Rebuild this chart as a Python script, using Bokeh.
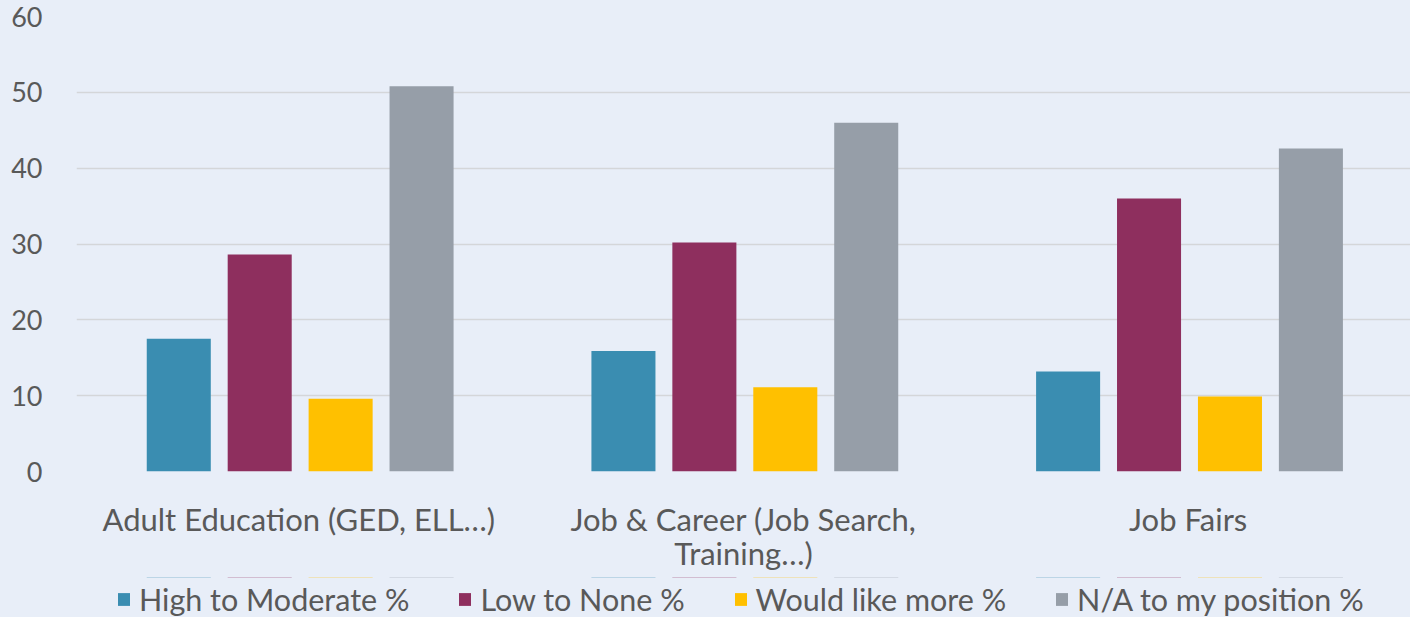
from bokeh.plotting import figure
from bokeh.layouts import column
from bokeh.models import FactorRange, Legend, LegendItem, ColumnDataSource, FixedTicker, Range1d
from bokeh.transform import dodge
from bokeh.embed import file_html
from bokeh.resources import INLINE

categories = ["Adult Education (GED, ELL…)", "Job & Career (Job Search,\nTraining…)", "Job Fairs"]
series_names = ["High to Moderate %", "Low to None %", "Would like more %", "N/A to my position %"]
high_moderate = [17.5, 15.9, 13.2]
low_none = [28.6, 30.2, 36.0]
would_like_more = [9.6, 11.1, 9.9]
na_position = [50.8, 46.0, 42.6]
y_ticks = [0, 10, 20, 30, 40, 50, 60]

colors = ["#3a8db1", "#8e2f5e", "#ffc000", "#969ea8"]
offsets = [-0.27, -0.088, 0.094, 0.276]
bg = "#e8eef8"
txt = "#595959"
font = "Lato"

source = ColumnDataSource(dict(cat=categories, s0=high_moderate, s1=low_none,
                               s2=would_like_more, s3=na_position))
cols = ["s0", "s1", "s2", "s3"]

# main chart
p = figure(x_range=FactorRange(*categories, range_padding=0), y_range=(0, 60),
           width=1410, height=577, output_backend="svg", toolbar_location=None,
           border_fill_color=bg, background_fill_alpha=0,
           min_border_top=16, min_border_right=0, min_border_left=76,
           min_border_bottom=106)
p.outline_line_color = None

for i, col in enumerate(cols):
    p.vbar(x=dodge("cat", offsets[i], range=p.x_range), top=col, width=0.144,
           source=source, fill_color=colors[i], line_color=None)

p.yaxis.ticker = FixedTicker(ticks=y_ticks)
p.ygrid.ticker = FixedTicker(ticks=y_ticks)
p.xgrid.grid_line_color = None
p.ygrid.grid_line_color = "#d4d6d9"
p.ygrid.grid_line_width = 1.5

for ax in (p.xaxis, p.yaxis):
    ax.axis_line_color = None
    ax.major_tick_line_color = None
    ax.minor_tick_line_color = None
    ax.major_label_text_color = txt
    ax.major_label_text_font = font
p.yaxis.major_label_text_font_size = "27px"
p.xaxis.major_label_text_font_size = "31px"
p.xaxis.major_label_text_line_height = 0.92
p.yaxis.major_label_standoff = 28
p.xaxis.major_label_standoff = 22

# legend strip below the chart: swatch renderers are zero-height and lie
# outside this strip's y-range, so only their legend entries show
lp = figure(x_range=p.x_range, y_range=Range1d(-2000, -1999),
            width=1410, height=40, output_backend="svg", toolbar_location=None,
            x_axis_location=None, y_axis_location=None,
            border_fill_color=bg, background_fill_alpha=0,
            min_border=0, min_border_left=76, min_border_right=0,
            min_border_top=0, min_border_bottom=0)
lp.outline_line_color = None
lp.grid.visible = False
swatches = []
for i, col in enumerate(cols):
    swatches.append(lp.vbar(x=dodge("cat", offsets[i], range=lp.x_range), top=col, bottom=col,
                            width=0.144, source=source, fill_color=colors[i], line_color=None))

legend = Legend(items=[LegendItem(label=series_names[i], renderers=[swatches[i]]) for i in range(4)],
                orientation="horizontal", location=(40, 0),
                background_fill_alpha=0, border_line_color=None,
                label_text_font=font, label_text_font_size="30.5px", label_text_color=txt,
                glyph_width=15, glyph_height=16, spacing=48, label_standoff=8,
                margin=0, padding=0)
lp.add_layout(legend, "center")

layout = column(p, lp, spacing=0, styles={"background-color": bg})
open("out.html", "w").write(file_html(layout, INLINE))
